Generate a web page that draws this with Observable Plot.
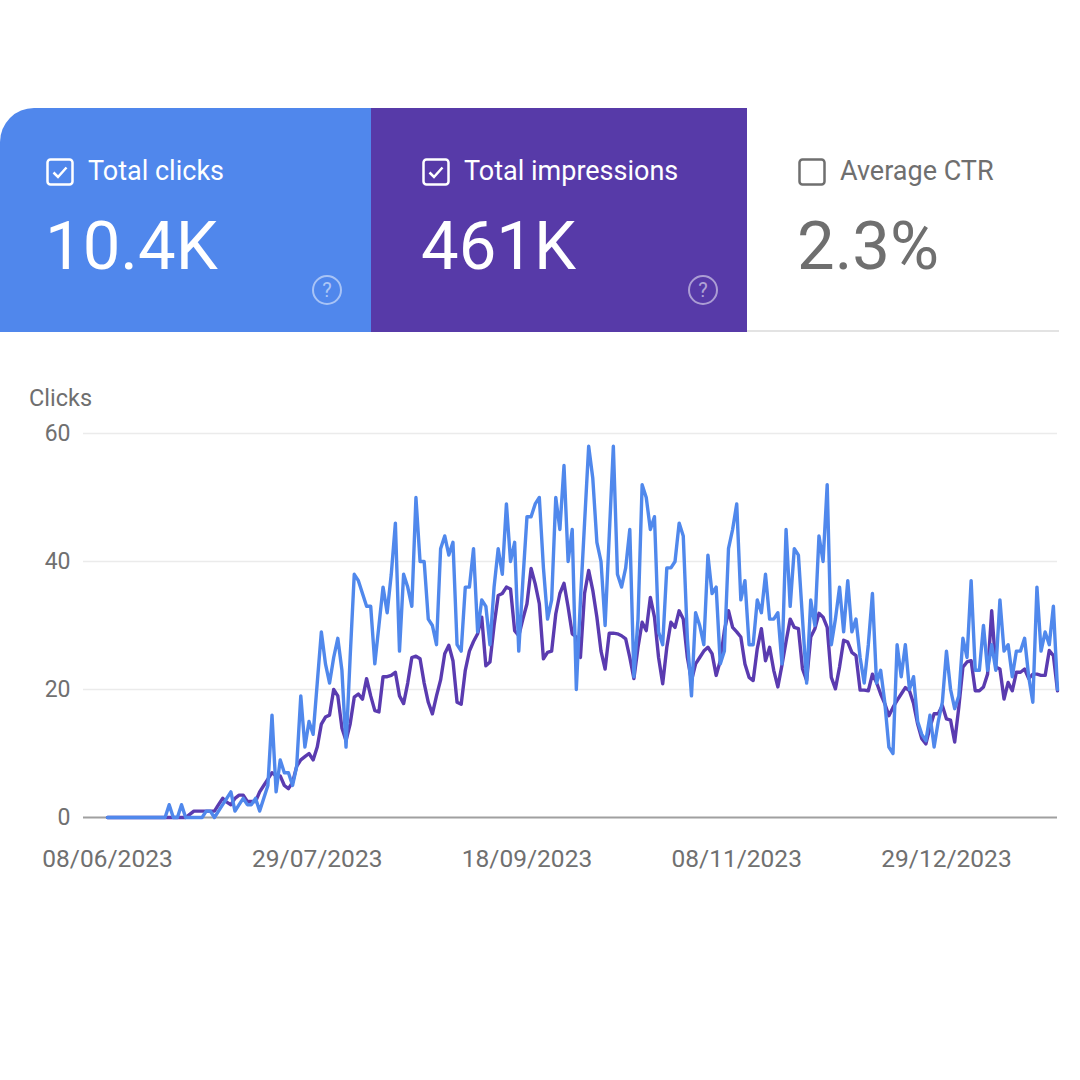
<!DOCTYPE html>
<html>
<head>
<meta charset="utf-8">
<script src="https://cdn.jsdelivr.net/npm/d3@7"></script>
<script src="https://cdn.jsdelivr.net/npm/@observablehq/plot@0.6"></script>
<style>
  html, body { margin: 0; padding: 0; background: #fff; }
  body { width: 1080px; height: 1080px; position: relative; overflow: hidden; font-family: Roboto, "Noto Sans", sans-serif; }
  .card { position: absolute; top: 108px; height: 224px; box-sizing: border-box; }
  .c1 { left: 0; width: 371px; background: #5087ec; border-top-left-radius: 34px; }
  .c2 { left: 371px; width: 376px; background: #573aa8; }
  .c3 { left: 747px; width: 312px; background: #fff; border-bottom: 2px solid #e3e3e3; }
  .cb { position: absolute; top: 50px; width: 28px; height: 28px; }
  .lbl { position: absolute; top: 46px; font-size: 27px; line-height: 34px; white-space: nowrap; }
  .val { position: absolute; top: 98px; font-size: 67px; line-height: 80px; white-space: nowrap; }
  .help { position: absolute; top: 167px; width: 26px; height: 26px; border: 2px solid rgba(255,255,255,0.5); border-radius: 50%;
          color: rgba(255,255,255,0.55); font-size: 20px; line-height: 26px; text-align: center; }
  #ylabel { position: absolute; left: 29px; top: 384px; font-size: 23.5px; color: #6f6f6f; }
  #chart { position: absolute; left: 0; top: 420px; }
</style>
</head>
<body>
<div class="card c1">
  <svg class="cb" style="left:46px" viewBox="0 0 28 28"><rect x="1.5" y="1.5" width="25" height="25" rx="3" fill="none" stroke="#fff" stroke-width="2.5"/><path d="M7.5 14.5 L12 19 L20.5 9.5" fill="none" stroke="#fff" stroke-width="2.5"/></svg>
  <div class="lbl" style="left:88px;color:#fff">Total clicks</div>
  <div class="val" style="left:45px;color:#fff">10.4K</div>
  <div class="help" style="left:312px">?</div>
</div>
<div class="card c2">
  <svg class="cb" style="left:51px" viewBox="0 0 28 28"><rect x="1.5" y="1.5" width="25" height="25" rx="3" fill="none" stroke="#fff" stroke-width="2.5"/><path d="M7.5 14.5 L12 19 L20.5 9.5" fill="none" stroke="#fff" stroke-width="2.5"/></svg>
  <div class="lbl" style="left:93px;color:#fff">Total impressions</div>
  <div class="val" style="left:50px;color:#fff">461K</div>
  <div class="help" style="left:317px">?</div>
</div>
<div class="card c3">
  <svg class="cb" style="left:51px" viewBox="0 0 28 28"><rect x="1.5" y="1.5" width="25" height="25" rx="3" fill="none" stroke="#6f6f6f" stroke-width="2.5"/></svg>
  <div class="lbl" style="left:93px;color:#6f6f6f">Average CTR</div>
  <div class="val" style="left:50px;color:#6f6f6f">2.3%</div>
</div>
<div id="ylabel">Clicks</div>
<div id="chart"></div>
<script>
// Daily clicks, 08/06/2023 .. 25/01/2024
const clicks = [
  0,0,0,0,0,0,0,0,0,0, 0,0,0,0,0,2,0,0,2,0,
  0,0,0,0,1,1,0,1,2,3, 4,1,2,3,2,2,3,1,3,5,
  16,4,9,7,7,5,8,19,11,15, 13,21,29,24,21,25,28,23,11,25,
  38,37,35,33,33,24,30,36,32,38, 46,26,38,36,33,50,40,40,31,30,
  27,42,44,41,43,27,26,36,36,42, 29,34,33,27,36,42,38,49,40,43,
  26,37,47,47,49,50,39,31,34,50, 45,55,40,45,20,34,46,58,53,43,
  40,30,44,58,38,36,39,45,22,31, 52,50,45,47,29,27,39,39,40,46,
  44,28,19,32,30,27,41,35,36,24, 26,42,45,49,34,37,27,27,34,32,
  38,31,31,32,24,45,33,42,41,31, 21,34,30,44,40,52,27,31,36,29,
  37,29,31,25,21,27,35,21,23,18, 11,10,27,22,27,20,22,15,13,12,
  16,11,15,18,26,20,17,19,28,25, 37,23,23,30,23,27,23,34,26,27,
  22,26,26,28,22,18,36,26,29,27, 33,20
];
// Impressions, drawn on the same (hidden, rescaled) axis as in the original
const impressionsScaled = [
  0,0,0,0,0,0,0,0,0,0, 0,0,0,0,0,0,0,0,0,0,
  0.5,1,1,1,1,1,1,2,3,2.4, 2,3,3.5,3.5,2.5,2.5,2.5,4,5,6,
  7,6.5,6.5,5,4.5,5.5,8,9,9.5,10, 9,11,14.6,15.7,16,20,19,14,12,14.6,
  18.8,19.3,18.5,21.7,19,16.7,16.5,22,22,22.2, 22.7,19,17.8,21,25,25.2,24.8,21,18,16.2,
  19,21.5,25.6,26.9,24.5,18,17.7,23,26,27.5, 28.7,31.3,23.7,24.3,30,34.7,35,36,35.7,29.2,
  28.4,31,33.4,38.9,36.5,33.4,24.8,25.8,26,31.8, 35,36.6,32.9,28.7,28.2,25,35,38.6,35.5,31.3,
  26,23.2,28.8,28.8,28.7,28.4,27.9,25,21.7,26.6, 30.5,29.2,34.4,31.3,25,20.9,26.6,30.5,29.7,32.3,
  31,25,21.4,24,25,26,26.6,25.6,22.2,24.5, 29.2,32.3,29.7,29,28.2,24,21.9,21.4,26.4,29.5,
  24.5,26.6,23,20.4,23.8,27.5,31,29.7,29.5,23.2, 21.4,28.2,29.5,31.9,31.3,29.7,21.9,20.1,23.5,27.7,
  27.4,25.8,25.3,19.9,19.9,19.8,22.4,21.1,19.3,17.8, 15.9,17.2,18.3,19.3,20.3,19.8,17.8,14.6,12.3,11.5,
  14.1,16.2,16.2,17.5,15.4,15.2,11.8,17.2,23.5,24.3, 24.5,19.8,19.8,20.4,22.4,32.3,23.5,23.2,18.5,21.1,
  19.8,22.7,22.7,23.2,21.7,22.4,22.4,22.2,22.2,26.1, 25.3,19.8
];
const startDate = new Date(Date.UTC(2023, 5, 8));
const tickDates = ["2023-06-08", "2023-07-29", "2023-09-18", "2023-11-08", "2023-12-29"];
const yTicks = [0, 20, 40, 60];

const dates = clicks.map((_, i) => d3.utcDay.offset(startDate, i));
const clickRows = clicks.map((v, i) => ({date: dates[i], value: v}));
const imprRows = impressionsScaled.map((v, i) => ({date: dates[i], value: v}));

const chart = Plot.plot({
  width: 1080,
  height: 470,
  marginLeft: 83,
  marginRight: 23,
  marginTop: 13,
  marginBottom: 73,
  insetLeft: 24,
  style: {fontFamily: "Roboto, sans-serif", fontSize: "23px", color: "#707070", background: "transparent", overflow: "visible"},
  x: {
    type: "utc",
    domain: [dates[0], dates[dates.length - 1]],
    label: null
  },
  y: {domain: [0, 60], label: null},
  marks: [
    Plot.ruleY(yTicks.filter(t => t > 0), {stroke: "#ebebeb", strokeWidth: 1.5}),
    Plot.ruleY([0], {stroke: "#a0a0a0", strokeWidth: 2}),
    Plot.axisY({ticks: yTicks, tickSize: 0, tickPadding: 13, label: null, fontSize: 23}),
    Plot.axisX({
      ticks: tickDates.map(s => d3.utcParse("%Y-%m-%d")(s)),
      tickFormat: d3.utcFormat("%d/%m/%Y"),
      tickSize: 0, tickPadding: 32, label: null, fontSize: 24.5
    }),
    Plot.lineY(imprRows, {x: "date", y: "value", stroke: "#5a3bb0", strokeWidth: 3.4, strokeLinejoin: "round"}),
    Plot.lineY(clickRows, {x: "date", y: "value", stroke: "#5088ec", strokeWidth: 3.4, strokeLinejoin: "round"})
  ]
});
document.getElementById("chart").appendChild(chart);
</script>
</body>
</html>
